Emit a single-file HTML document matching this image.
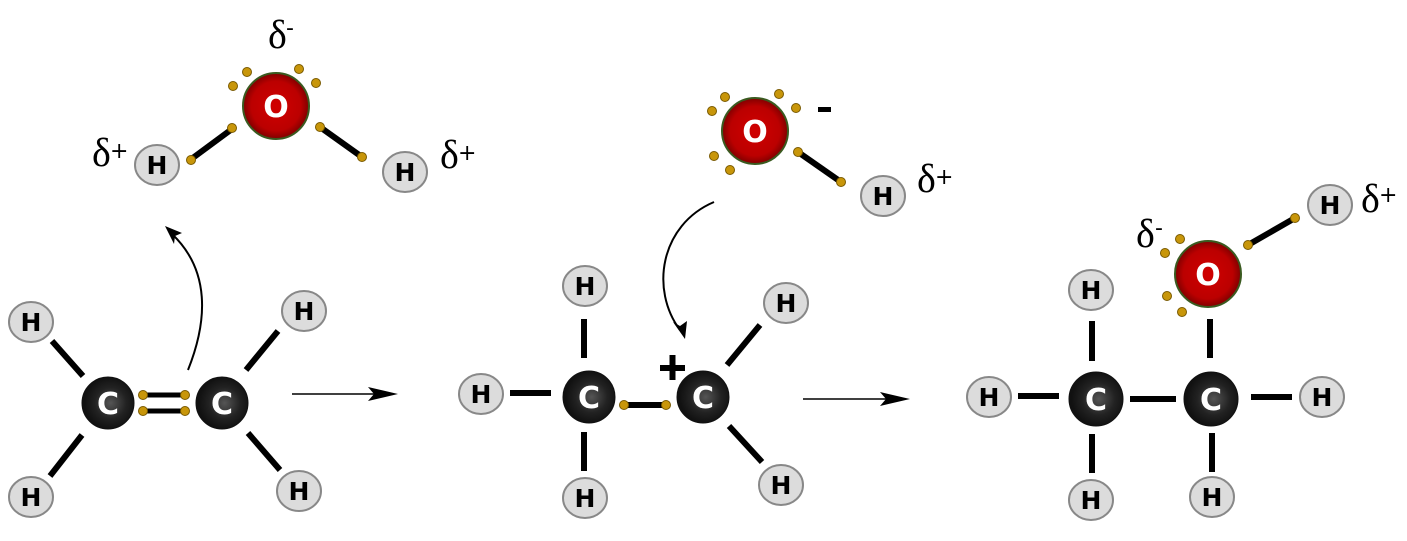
<!DOCTYPE html>
<html><head><meta charset="utf-8"><style>
html,body{margin:0;padding:0;background:#fff;}
svg{display:block;}
.h{fill:#dcdcdc;stroke:#888;stroke-width:2;}
.ht{font-family:"DejaVu Sans","Liberation Sans",sans-serif;font-weight:bold;font-size:25px;fill:#000;text-anchor:middle;}
.ct{font-family:"DejaVu Sans","Liberation Sans",sans-serif;font-weight:bold;font-size:30px;fill:#fff;text-anchor:middle;}
.ot{font-family:"DejaVu Sans","Liberation Sans",sans-serif;font-weight:bold;font-size:30px;fill:#fff;text-anchor:middle;}
.b{stroke:#000;stroke-width:6;}
.d{fill:#c8960a;stroke:#7a5a00;stroke-width:1;}
.dl{font-family:"Liberation Serif",serif;font-size:40px;fill:#000;}
.sup{font-family:"DejaVu Sans","Liberation Sans",sans-serif;font-size:22px;fill:#000;}
</style></head><body>
<svg width="1407" height="541" viewBox="0 0 1407 541" xmlns="http://www.w3.org/2000/svg">
<defs>
<radialGradient id="cg" cx="0.55" cy="0.5" r="0.5"><stop offset="0" stop-color="#555"/><stop offset="0.6" stop-color="#222"/><stop offset="1" stop-color="#111"/></radialGradient>
<radialGradient id="og" cx="0.5" cy="0.5" r="0.5"><stop offset="0" stop-color="#d00000"/><stop offset="0.75" stop-color="#bb0000"/><stop offset="1" stop-color="#800000"/></radialGradient>
</defs>

<!-- Water 1 -->
<line class="b" x1="190" y1="160" x2="232" y2="129"/>
<line class="b" x1="320" y1="127" x2="362" y2="157"/>
<circle cx="276" cy="106" r="33" fill="url(#og)" stroke="#3a5a20" stroke-width="2"/>
<text class="ot" x="276" y="117">O</text>
<circle class="d" cx="233" cy="86" r="4.5"/><circle class="d" cx="247" cy="72" r="4.5"/>
<circle class="d" cx="299" cy="69" r="4.5"/><circle class="d" cx="316" cy="83" r="4.5"/>
<circle class="d" cx="232" cy="128" r="4.5"/><circle class="d" cx="191" cy="160" r="4.5"/>
<circle class="d" cx="320" cy="127" r="4.5"/><circle class="d" cx="362" cy="157" r="4.5"/>
<ellipse class="h" cx="157" cy="165" rx="22" ry="20"/><text class="ht" x="157" y="174">H</text>
<ellipse class="h" cx="405" cy="172" rx="22" ry="20"/><text class="ht" x="405" y="181">H</text>
<text class="dl" x="268" y="48">δ</text><text class="sup" x="286" y="35">-</text>
<text class="dl" x="92" y="166">δ</text><text class="sup" x="110" y="158">+</text>
<text class="dl" x="440" y="168">δ</text><text class="sup" x="458" y="160">+</text>

<!-- curved arrow 1 -->
<path d="M188,370 C208,320 210,270 172,234" fill="none" stroke="#000" stroke-width="2"/>
<path d="M165,226 L182,233 L175,236 L174,244 Z" fill="#000"/>

<!-- Ethylene -->
<line class="b" x1="52" y1="341" x2="83" y2="376"/>
<line class="b" x1="50" y1="476" x2="82" y2="435"/>
<line class="b" x1="278" y1="331" x2="246" y2="370"/>
<line class="b" x1="248" y1="433" x2="280" y2="470"/>
<line stroke="#000" stroke-width="5" x1="143" y1="395" x2="185" y2="395"/>
<line stroke="#000" stroke-width="5" x1="143" y1="411" x2="185" y2="411"/>
<circle class="d" cx="143" cy="395" r="4.5"/><circle class="d" cx="185" cy="395" r="4.5"/>
<circle class="d" cx="143" cy="411" r="4.5"/><circle class="d" cx="185" cy="411" r="4.5"/>
<circle cx="108" cy="403" r="26" fill="url(#cg)" stroke="#111" stroke-width="1"/><text class="ct" x="108" y="414">C</text>
<circle cx="222" cy="403" r="26" fill="url(#cg)" stroke="#111" stroke-width="1"/><text class="ct" x="222" y="414">C</text>
<ellipse class="h" cx="31" cy="322" rx="22" ry="20"/><text class="ht" x="31" y="331">H</text>
<ellipse class="h" cx="31" cy="497" rx="22" ry="20"/><text class="ht" x="31" y="506">H</text>
<ellipse class="h" cx="304" cy="311" rx="22" ry="20"/><text class="ht" x="304" y="320">H</text>
<ellipse class="h" cx="299" cy="491" rx="22" ry="20"/><text class="ht" x="299" y="500">H</text>

<line x1="292" y1="394" x2="375" y2="394" stroke="#000" stroke-width="1.5"/>
<path d="M368,387 L398,394 L368,401 L374,394 Z" fill="#000"/>

<!-- Hydroxide -->
<line class="b" x1="798" y1="152" x2="841" y2="182"/>
<circle cx="755" cy="131" r="33" fill="url(#og)" stroke="#3a5a20" stroke-width="2"/>
<text class="ot" x="755" y="142">O</text>
<circle class="d" cx="712" cy="111" r="4.5"/><circle class="d" cx="725" cy="97" r="4.5"/>
<circle class="d" cx="779" cy="94" r="4.5"/><circle class="d" cx="796" cy="108" r="4.5"/>
<circle class="d" cx="714" cy="156" r="4.5"/><circle class="d" cx="730" cy="170" r="4.5"/>
<circle class="d" cx="798" cy="152" r="4.5"/><circle class="d" cx="841" cy="182" r="4.5"/>
<rect x="818" y="107" width="13" height="5" fill="#000"/>
<ellipse class="h" cx="883" cy="196" rx="22" ry="20"/><text class="ht" x="883" y="205">H</text>
<text class="dl" x="917" y="192">δ</text><text class="sup" x="935" y="184">+</text>

<path d="M714,202 C660,225 650,290 680,330" fill="none" stroke="#000" stroke-width="2"/>
<path d="M685,339 L673,322 L680,326 L687,321 Z" fill="#000"/>

<!-- Carbocation -->
<line class="b" x1="584" y1="319" x2="584" y2="358"/>
<line class="b" x1="510" y1="393" x2="551" y2="393"/>
<line class="b" x1="584" y1="432" x2="584" y2="471"/>
<line class="b" x1="760" y1="325" x2="727" y2="365"/>
<line class="b" x1="729" y1="426" x2="762" y2="462"/>
<line stroke="#000" stroke-width="6" x1="624" y1="405" x2="666" y2="405"/>
<circle class="d" cx="624" cy="405" r="4.5"/><circle class="d" cx="666" cy="405" r="4.5"/>
<circle cx="589" cy="397" r="26" fill="url(#cg)" stroke="#111" stroke-width="1"/><text class="ct" x="589" y="408">C</text>
<circle cx="703" cy="397" r="26" fill="url(#cg)" stroke="#111" stroke-width="1"/><text class="ct" x="703" y="408">C</text>
<rect x="660" y="365" width="25" height="6" fill="#000"/><rect x="669.5" y="355" width="6" height="25" fill="#000"/>
<ellipse class="h" cx="585" cy="286" rx="22" ry="20"/><text class="ht" x="585" y="295">H</text>
<ellipse class="h" cx="481" cy="394" rx="22" ry="20"/><text class="ht" x="481" y="403">H</text>
<ellipse class="h" cx="585" cy="498" rx="22" ry="20"/><text class="ht" x="585" y="507">H</text>
<ellipse class="h" cx="786" cy="303" rx="22" ry="20"/><text class="ht" x="786" y="312">H</text>
<ellipse class="h" cx="781" cy="485" rx="22" ry="20"/><text class="ht" x="781" y="494">H</text>

<line x1="803" y1="399" x2="888" y2="399" stroke="#000" stroke-width="1.5"/>
<path d="M880,392 L910,399 L880,406 L886,399 Z" fill="#000"/>

<!-- Ethanol -->
<line class="b" x1="1092" y1="321" x2="1092" y2="361"/>
<line class="b" x1="1018" y1="396" x2="1059" y2="396"/>
<line class="b" x1="1130" y1="399" x2="1176" y2="399"/>
<line class="b" x1="1251" y1="397" x2="1292" y2="397"/>
<line class="b" x1="1092" y1="434" x2="1092" y2="473"/>
<line class="b" x1="1212" y1="433" x2="1212" y2="472"/>
<line class="b" x1="1210" y1="319" x2="1210" y2="358"/>
<line class="b" x1="1248" y1="245" x2="1295" y2="218"/>
<circle cx="1096" cy="399" r="27" fill="url(#cg)" stroke="#111" stroke-width="1"/><text class="ct" x="1096" y="410">C</text>
<circle cx="1211" cy="399" r="27" fill="url(#cg)" stroke="#111" stroke-width="1"/><text class="ct" x="1211" y="410">C</text>
<circle cx="1208" cy="274" r="33" fill="url(#og)" stroke="#3a5a20" stroke-width="2"/>
<text class="ot" x="1208" y="285">O</text>
<circle class="d" cx="1165" cy="253" r="4.5"/><circle class="d" cx="1180" cy="239" r="4.5"/>
<circle class="d" cx="1167" cy="296" r="4.5"/><circle class="d" cx="1182" cy="312" r="4.5"/>
<circle class="d" cx="1248" cy="245" r="4.5"/><circle class="d" cx="1295" cy="218" r="4.5"/>
<ellipse class="h" cx="1330" cy="205" rx="22" ry="20"/><text class="ht" x="1330" y="214">H</text>
<text class="dl" x="1361" y="212">δ</text><text class="sup" x="1379" y="202">+</text>
<text class="dl" x="1136" y="247">δ</text><text class="sup" x="1155" y="235">-</text>
<ellipse class="h" cx="1091" cy="290" rx="22" ry="20"/><text class="ht" x="1091" y="299">H</text>
<ellipse class="h" cx="989" cy="397" rx="22" ry="20"/><text class="ht" x="989" y="406">H</text>
<ellipse class="h" cx="1091" cy="500" rx="22" ry="20"/><text class="ht" x="1091" y="509">H</text>
<ellipse class="h" cx="1212" cy="497" rx="22" ry="20"/><text class="ht" x="1212" y="506">H</text>
<ellipse class="h" cx="1322" cy="397" rx="22" ry="20"/><text class="ht" x="1322" y="406">H</text>
</svg>
</body></html>
